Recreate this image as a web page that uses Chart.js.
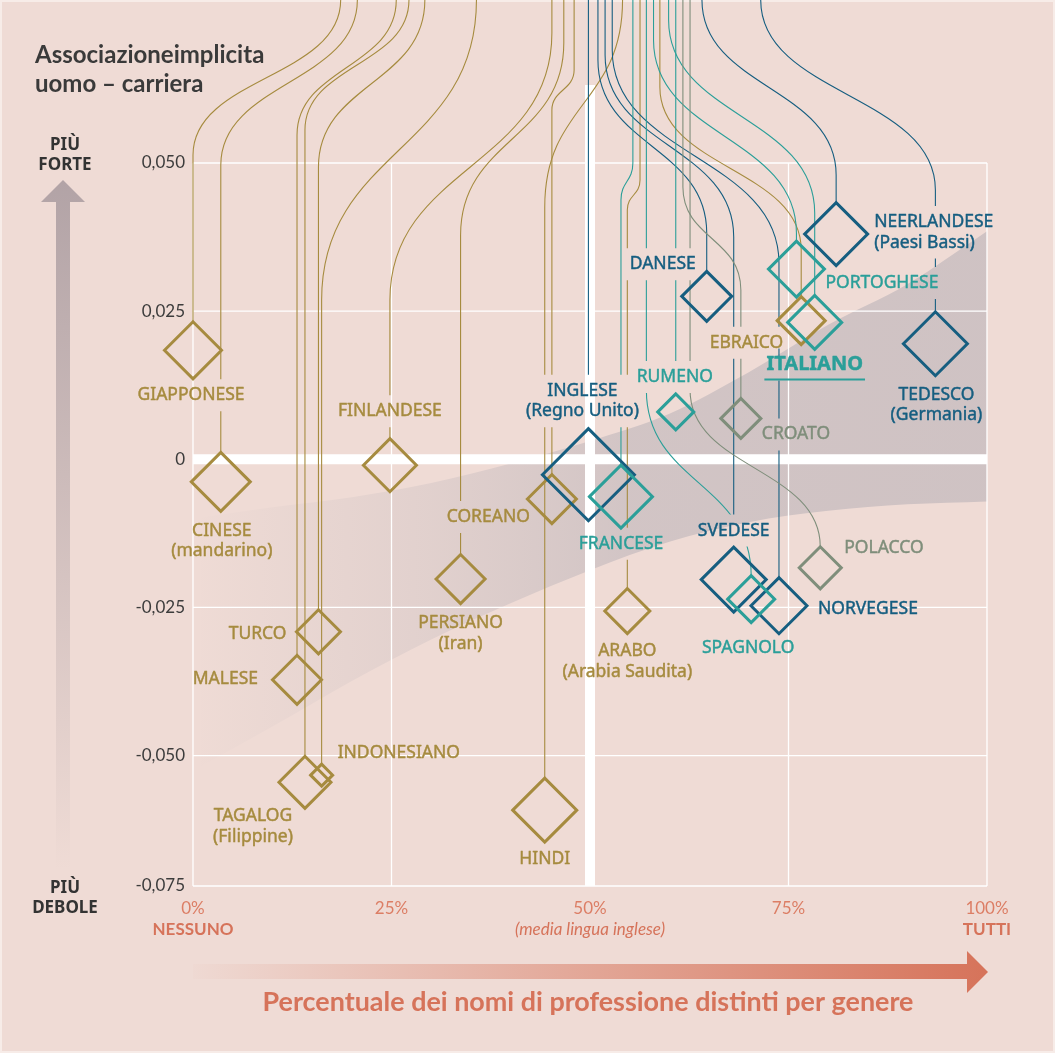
<!DOCTYPE html>
<html lang="it">
<head>
<meta charset="utf-8">
<title>Associazione implicita uomo – carriera</title>
<script src="https://cdn.jsdelivr.net/npm/chart.js@4.4.1/dist/chart.umd.min.js"></script>
<style>
  html, body { margin: 0; padding: 0; background: #efdbd5; overflow: hidden; }
  canvas { display: block; }
</style>
</head>
<body>
<canvas id="grafico" width="1055" height="1053"></canvas>
<script>
// dati
const lingue = ['GIAPPONESE', 'CINESE', 'FINLANDESE', 'COREANO', 'PERSIANO', 'TURCO', 'MALESE',
  'INDONESIANO', 'TAGALOG', 'HINDI', 'ARABO', 'EBRAICO', 'INGLESE', 'DANESE', 'NEERLANDESE',
  'TEDESCO', 'SVEDESE', 'NORVEGESE', 'FRANCESE', 'RUMENO', 'PORTOGHESE', 'ITALIANO', 'SPAGNOLO',
  'CROATO', 'POLACCO'];
const sottotitoli = [null, '(mandarino)', null, null, '(Iran)', null, null,
  null, '(Filippine)', null, '(Arabia Saudita)', null, '(Regno Unito)', null, '(Paesi Bassi)',
  '(Germania)', null, null, null, null, null, null, null,
  null, null];
const famiglia = ['altra', 'altra', 'altra', 'altra', 'altra', 'altra', 'altra',
  'altra', 'altra', 'altra', 'altra', 'altra', 'germanica', 'germanica', 'germanica',
  'germanica', 'germanica', 'germanica', 'romanza', 'romanza', 'romanza', 'romanza', 'romanza',
  'slava', 'slava'];
// percentuale dei nomi di professione distinti per genere
const percentualeDistinti = [0, 3.5, 24.8, 45.2, 33.7, 15.8, 13.1,
  16.2, 14.1, 44.3, 54.7, 76.6, 49.8, 64.7, 81.0,
  93.5, 68.1, 73.8, 53.9, 60.8, 76.0, 78.3, 70.3,
  69.0, 79.0];
// associazione implicita uomo - carriera
const associazione = [0.0184, -0.0038, -0.0010, -0.0067, -0.0202, -0.0291, -0.0372,
  -0.0533, -0.0545, -0.0592, -0.0256, 0.0234, -0.0026, 0.0275, 0.0380,
  0.0195, -0.0203, -0.0247, -0.0063, 0.0080, 0.0321, 0.0231, -0.0236,
  0.0069, -0.0183];

// fascia di regressione
const bandaX = [1, 10, 20, 30, 40, 50, 60, 70, 80, 90, 100];
const bandaSup = [-0.0098, -0.0081, -0.0064, -0.0040, -0.0007, 0.0031, 0.0077, 0.0147, 0.0227, 0.0296, 0.0385];
const bandaInf = [-0.0518, -0.0451, -0.0374, -0.0304, -0.0243, -0.0187, -0.0139, -0.0106, -0.0087, -0.0076, -0.0071];

// assi
const xTickValori = [0, 25, 50, 75, 100];
const yTickValori = [-0.075, -0.05, -0.025, 0, 0.025, 0.05];
const yTickEtichette = ['-0,075', '-0,050', '-0,025', '0', '0,025', '0,050'];
const mediaInglese = 50;

// stile
const SFONDO = '#efdbd5';
const SALMONE = '#d6735a';
const coloriFamiglia = { altra: '#a68b3f', germanica: '#165e80', romanza: '#2b9f99', slava: '#7f8e7b' };
const raggi = [28.5, 29.5, 26.5, 24.5, 24.5, 22, 24.5, 11, 26, 32, 22.5, 24, 46, 25, 31.5,
  32, 32.5, 28, 31.5, 18, 28, 27, 23.5, 20, 21];
// [dx, dy, allineamento] dell'etichetta rispetto al centro del rombo
const posEtichette = [[-2, 45, 'center'], [1, 49, 'center'], [0, -54, 'center'], [-22, 18, 'right'],
  [0, 44, 'center'], [-32, 2, 'right'], [-39, -1, 'right'], [16, -22, 'left'], [-52, 34, 'center'],
  [0, 49, 'center'], [0, 40, 'center'], [-18, 22, 'right'], [-6, -84, 'center'], [-11, -32, 'right'],
  [38, -12, 'left'], [1, 51, 'center'], [0, -49, 'center'], [39, 3, 'left'], [0, 47, 'center'],
  [-1, -35, 'center'], [29, 14, 'left'], [0, 42, 'center'], [-3, 49, 'center'], [21, 16, 'left'],
  [24, -20, 'left']];
// linee di richiamo: [x in alto (%), fine tratto verticale alto (px), inizio tratto verticale basso (px)]
const richiami = [[18.6, 0, 155], [20.7, 0, 165], [45.2, 33, 300], [48.0, 70, 110], [46.7, 43, 235],
  [29.2, 0, 167], [25.6, 0, 135], [35.7, 0, 300], [27.2, 0, 130], [54.1, 0, 207], [56.3, 180, 210],
  [58.8, 87, 250], [null, 0, 0], [51.0, 60, 233], [64.1, 0, 175], [71.5, 0, 190], [51.9, 55, 237],
  [52.8, 50, 263], [55.4, 163, 200], [null, 0, 0], [58.0, 40, 233], [59.9, 20, 213], [57.1, 390, null],
  [61.7, 187, 290], [62.6, 390, null]];

const FONT_ETICHETTE = '17.5px "Noto Sans", sans-serif';
const FONT_ITALIANO = 'bold 20px "Noto Sans", sans-serif';
const INTERLINEA = 20.5;

// calcola posizione e ingombro delle etichette
function scatoleEtichette(chart) {
  const ctx = chart.ctx;
  const sx = chart.scales.x, sy = chart.scales.y;
  return lingue.map((nome, i) => {
    const righe = sottotitoli[i] ? [nome, sottotitoli[i]] : [nome];
    const [dx, dy, allinea] = posEtichette[i];
    const evid = nome === 'ITALIANO';
    ctx.save();
    ctx.font = evid ? FONT_ITALIANO : FONT_ETICHETTE;
    const larg = Math.max(...righe.map(r => ctx.measureText(r).width));
    ctx.restore();
    const x = sx.getPixelForValue(percentualeDistinti[i]) + dx;
    const y = sy.getPixelForValue(associazione[i]) + dy;
    const sinistra = allinea === 'left' ? x : allinea === 'right' ? x - larg : x - larg / 2;
    return {
      righe, x, y, allinea, evid, larg, sinistra,
      colore: coloriFamiglia[famiglia[i]],
      alto: y - 11, basso: y + (righe.length - 1) * INTERLINEA + 11
    };
  });
}

function disegnaGriglia(chart) {
  const { ctx, chartArea: a } = chart;
  const sx = chart.scales.x, sy = chart.scales.y;
  ctx.save();
  ctx.strokeStyle = '#ffffff';
  ctx.lineWidth = 1.3;
  ctx.beginPath();
  yTickValori.forEach(v => {
    const py = sy.getPixelForValue(Math.max(v, sy.min));
    ctx.moveTo(a.left, py);
    ctx.lineTo(a.right, py);
  });
  xTickValori.forEach(v => {
    const px = sx.getPixelForValue(v);
    ctx.moveTo(px, a.top);
    ctx.lineTo(px, a.bottom);
  });
  ctx.stroke();
  // linee di riferimento spesse
  ctx.lineWidth = 10;
  ctx.beginPath();
  const y0 = sy.getPixelForValue(0);
  ctx.moveTo(a.left, y0);
  ctx.lineTo(a.right, y0);
  const x50 = sx.getPixelForValue(mediaInglese);
  ctx.moveTo(x50, 85);
  ctx.lineTo(x50, a.bottom);
  ctx.stroke();
  ctx.restore();
}

function disegnaRichiami(chart) {
  const ctx = chart.ctx;
  const sx = chart.scales.x, sy = chart.scales.y;
  const scatole = scatoleEtichette(chart);
  ctx.save();
  // interrompe le linee sotto le etichette
  ctx.beginPath();
  ctx.rect(0, 0, chart.width, chart.height);
  scatole.forEach(s => ctx.rect(s.sinistra - 5, s.alto - 5, s.larg + 10, s.basso - s.alto + 10));
  ctx.clip('evenodd');
  ctx.lineWidth = 1.1;
  lingue.forEach((nome, i) => {
    const px = sx.getPixelForValue(percentualeDistinti[i]);
    const cima = sy.getPixelForValue(associazione[i]) - raggi[i];
    const [tx0, y1, y2r] = richiami[i];
    const tx = tx0 == null ? px : sx.getPixelForValue(tx0);
    const y2 = y2r == null ? cima : y2r;
    ctx.strokeStyle = coloriFamiglia[famiglia[i]];
    ctx.beginPath();
    ctx.moveTo(tx, 0);
    if (tx0 == null) {
      ctx.lineTo(px, cima);
    } else {
      if (y1 > 0) ctx.lineTo(tx, y1);
      const k = (y2 - y1) * 0.5;
      ctx.bezierCurveTo(tx, y1 + k, px, y2 - k, px, y2);
      ctx.lineTo(px, cima);
    }
    ctx.stroke();
  });
  ctx.restore();
}

function disegnaEtichette(chart) {
  const ctx = chart.ctx;
  ctx.save();
  ctx.textBaseline = 'middle';
  ctx.lineJoin = 'round';
  scatoleEtichette(chart).forEach(s => {
    ctx.font = s.evid ? FONT_ITALIANO : FONT_ETICHETTE;
    ctx.fillStyle = s.colore;
    ctx.strokeStyle = s.colore;
    ctx.lineWidth = 0.45;
    ctx.textAlign = s.allinea;
    s.righe.forEach((r, k) => {
      ctx.fillText(r, s.x, s.y + k * INTERLINEA);
      ctx.strokeText(r, s.x, s.y + k * INTERLINEA);
    });
    if (s.evid) {
      ctx.lineWidth = 2;
      ctx.beginPath();
      ctx.moveTo(s.sinistra - 2, s.y + 15);
      ctx.lineTo(s.sinistra + s.larg + 2, s.y + 15);
      ctx.stroke();
    }
  });
  ctx.restore();
}

const decorazioni = {
  id: 'decorazioni',
  beforeDraw(chart) {
    const ctx = chart.ctx;
    ctx.save();
    ctx.fillStyle = SFONDO;
    ctx.fillRect(0, 0, chart.width, chart.height);
    ctx.strokeStyle = '#f7ece8';
    ctx.lineWidth = 2;
    ctx.strokeRect(1, 1, chart.width - 2, chart.height - 2);

    // titolo
    ctx.fillStyle = '#3a3a3a';
    ctx.font = 'bold 24px Lato, sans-serif';
    ctx.textAlign = 'left';
    ctx.textBaseline = 'alphabetic';
    ctx.fillText('Associazioneimplicita', 35, 63, 235);
    ctx.fillText('uomo – carriera', 35, 92);

    // freccia verticale
    const gv = ctx.createLinearGradient(0, 180, 0, 870);
    gv.addColorStop(0, 'rgba(178,163,166,1)');
    gv.addColorStop(1, 'rgba(178,163,166,0)');
    ctx.fillStyle = gv;
    ctx.beginPath();
    ctx.moveTo(63, 180);
    ctx.lineTo(85, 202);
    ctx.lineTo(70, 202);
    ctx.lineTo(70, 870);
    ctx.lineTo(56, 870);
    ctx.lineTo(56, 202);
    ctx.lineTo(41, 202);
    ctx.closePath();
    ctx.fill();

    ctx.fillStyle = '#333333';
    ctx.font = 'bold 17px "Noto Sans", sans-serif';
    ctx.textAlign = 'center';
    ctx.textBaseline = 'middle';
    ctx.fillText('PIÙ', 65, 145);
    ctx.fillText('FORTE', 65, 165);
    ctx.fillText('PIÙ', 65, 888);
    ctx.fillText('DEBOLE', 65, 908);

    // freccia orizzontale
    const go = ctx.createLinearGradient(193, 0, 988, 0);
    go.addColorStop(0, 'rgba(214,115,90,0.02)');
    go.addColorStop(1, 'rgba(214,115,90,1)');
    ctx.fillStyle = go;
    ctx.beginPath();
    ctx.moveTo(193, 964);
    ctx.lineTo(967, 964);
    ctx.lineTo(967, 951);
    ctx.lineTo(988, 972);
    ctx.lineTo(967, 993);
    ctx.lineTo(967, 979);
    ctx.lineTo(193, 979);
    ctx.closePath();
    ctx.fill();
    ctx.restore();
  },
  beforeDatasetDraw(chart, args) {
    if (args.index !== 0) return;
    disegnaGriglia(chart);
    disegnaRichiami(chart);
  },
  afterDatasetsDraw(chart) {
    disegnaEtichette(chart);
    const ctx = chart.ctx;
    const sx = chart.scales.x;
    ctx.save();
    ctx.fillStyle = SALMONE;
    ctx.textAlign = 'center';
    ctx.textBaseline = 'middle';
    ctx.font = 'bold 17px Lato, sans-serif';
    ctx.fillText('NESSUNO', sx.getPixelForValue(0), 930);
    ctx.fillText('TUTTI', sx.getPixelForValue(100), 930);
    ctx.font = 'italic 17px Lato, sans-serif';
    ctx.fillText('(media lingua inglese)', sx.getPixelForValue(mediaInglese), 930);
    ctx.font = 'bold 27px Lato, sans-serif';
    ctx.fillText('Percentuale dei nomi di professione distinti per genere', 588, 1002, 651);
    ctx.restore();
  }
};

new Chart(document.getElementById('grafico'), {
  type: 'scatter',
  data: {
    datasets: [{
      label: 'Lingue',
      data: lingue.map((l, i) => ({ x: percentualeDistinti[i], y: associazione[i] })),
      pointStyle: 'rectRot',
      pointRadius: raggi,
      pointHoverRadius: raggi,
      pointBorderWidth: 3,
      pointHoverBorderWidth: 3,
      pointBorderColor: famiglia.map(f => coloriFamiglia[f]),
      pointBackgroundColor: 'rgba(0,0,0,0)',
      clip: false
    }, {
      type: 'line',
      label: 'Fascia superiore',
      data: bandaX.map((x, i) => ({ x: x, y: bandaSup[i] })),
      fill: '+1',
      borderWidth: 0,
      pointRadius: 0,
      cubicInterpolationMode: 'monotone',
      backgroundColor: function (c) {
        const a = c.chart.chartArea;
        if (!a) return 'rgba(0,0,0,0)';
        const g = c.chart.ctx.createLinearGradient(a.left, 0, a.right, 0);
        g.addColorStop(0, 'rgba(175,170,178,0)');
        g.addColorStop(0.3, 'rgba(175,170,178,0.22)');
        g.addColorStop(0.55, 'rgba(175,170,178,0.46)');
        g.addColorStop(1, 'rgba(175,170,178,0.5)');
        return g;
      }
    }, {
      type: 'line',
      label: 'Fascia inferiore',
      data: bandaX.map((x, i) => ({ x: x, y: bandaInf[i] })),
      fill: false,
      borderWidth: 0,
      pointRadius: 0,
      cubicInterpolationMode: 'monotone'
    }]
  },
  options: {
    responsive: false,
    animation: false,
    events: [],
    layout: { padding: { top: 163, right: 68, bottom: 127, left: 133 } },
    plugins: {
      legend: { display: false },
      tooltip: { enabled: false }
    },
    scales: {
      x: {
        type: 'linear',
        min: 0,
        max: 100,
        grid: { display: false, drawTicks: false },
        border: { display: false },
        afterFit: function (scale) { scale.height = 40; },
        afterBuildTicks: function (scale) { scale.ticks = xTickValori.map(v => ({ value: v })); },
        ticks: {
          padding: 12,
          color: '#dc7e65',
          font: { family: 'Lato', size: 17 },
          callback: function (v) { return v + '%'; }
        }
      },
      y: {
        type: 'linear',
        min: -0.072,
        max: 0.05,
        grid: { display: false, drawTicks: false },
        border: { display: false },
        afterFit: function (scale) { scale.width = 60; },
        afterBuildTicks: function (scale) {
          scale.ticks = yTickValori.map(v => ({ value: Math.max(v, scale.min) }));
        },
        ticks: {
          padding: 8,
          color: '#3c3c3c',
          font: { family: 'Lato', size: 17 },
          callback: function (v, i) { return yTickEtichette[i]; }
        }
      }
    }
  },
  plugins: [decorazioni]
});
</script>
</body>
</html>
